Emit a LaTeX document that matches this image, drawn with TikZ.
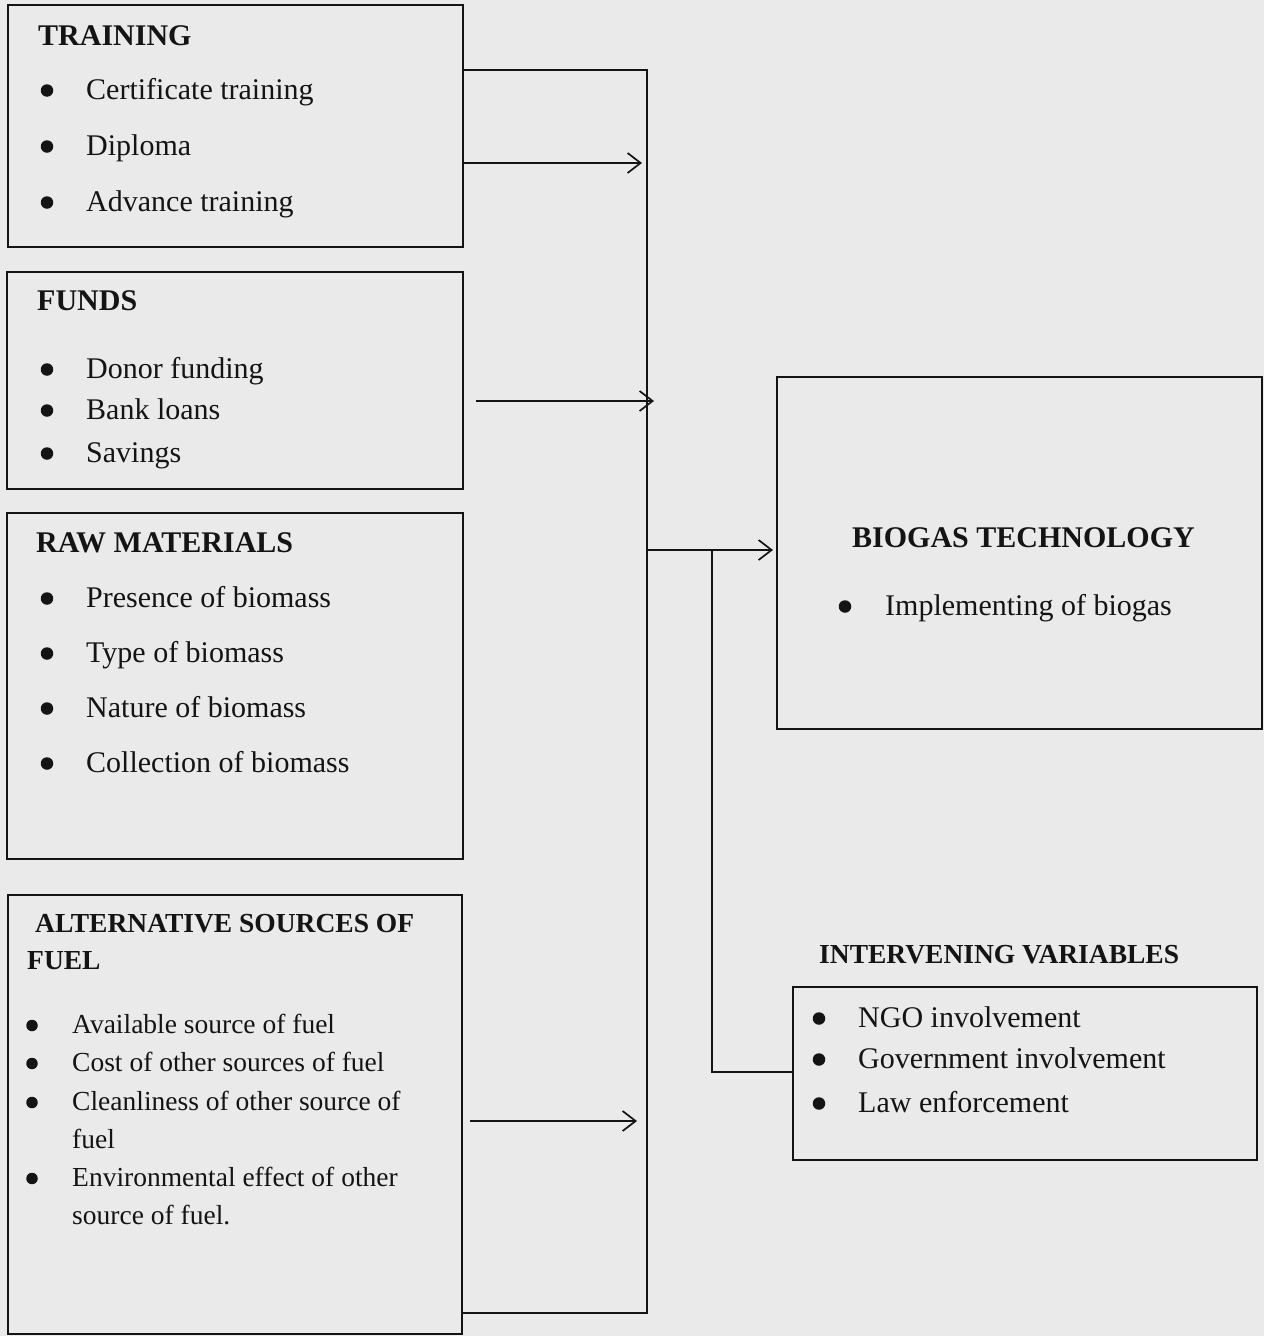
\documentclass[tikz,border=0pt]{standalone}
\usepackage{fontspec}
\setmainfont{Liberation Serif}
\usetikzlibrary{arrows.meta}
\definecolor{paper}{HTML}{EAEAEA}
\definecolor{ink}{HTML}{141414}
\begin{document}
\begin{tikzpicture}[x=1pt,y=-1pt,
  box/.style={draw=ink, line width=2pt, inner sep=0pt, outer sep=0pt, anchor=north west},
  txt/.style={anchor=base west, inner sep=0pt, text=ink, font=\fontsize{30}{36}\selectfont},
  ttl/.style={txt, font=\fontsize{30}{36}\selectfont\bfseries},
  stxt/.style={txt, font=\fontsize{27.5}{33}\selectfont},
  sttl/.style={txt, font=\fontsize{27.5}{33}\selectfont\bfseries},
  bul/.style={circle, fill=ink, inner sep=0pt, minimum size=12.5pt, yshift=8.5pt},
  sbul/.style={circle, fill=ink, inner sep=0pt, minimum size=11.5pt, yshift=7.5pt},
  conn/.style={draw=ink, line width=1.7pt},
  arr/.style={conn, -{Straight Barb[length=13pt,width=20pt]}}
]
\useasboundingbox (0,0) rectangle (1264,1336);
\fill[paper] (0,0) rectangle (1264,1336);

% ---------- boxes ----------
\node[box, minimum width=455pt, minimum height=242pt] (train) at (8,5) {};
\node[box, minimum width=456pt, minimum height=217pt] (funds) at (7,272) {};
\node[box, minimum width=456pt, minimum height=346pt] (raw) at (7,513) {};
\node[box, minimum width=454pt, minimum height=439pt] (alt) at (8,895) {};
\node[box, minimum width=485pt, minimum height=352pt] (biogas) at (777,377) {};
\node[box, minimum width=464pt, minimum height=173pt] (interv) at (793,987) {};

% ---------- training ----------
\node[ttl] (tT) at (38,45) {TRAINING};
\node[bul] (tb1) at (47,99) {};
\node[txt] (t1) at (86,99) {Certificate training};
\node[bul] (tb2) at (47,155) {};
\node[txt] (t2) at (86,155) {Diploma};
\node[bul] (tb3) at (47,211) {};
\node[txt] (t3) at (86,211) {Advance training};

% ---------- funds ----------
\node[ttl] (fT) at (37,310) {FUNDS};
\node[bul] (fb1) at (47,378) {};
\node[txt] (f1t) at (86,378) {Donor funding};
\node[bul] (fb2) at (47,419) {};
\node[txt] (f2t) at (86,419) {Bank loans};
\node[bul] (fb3) at (47,462) {};
\node[txt] (f3t) at (86,462) {Savings};

% ---------- raw materials ----------
\node[ttl] (rT) at (36,552) {RAW MATERIALS};
\node[bul] (rb1) at (47,607) {};
\node[txt] (r1) at (86,607) {Presence of biomass};
\node[bul] (rb2) at (47,662) {};
\node[txt] (r2) at (86,662) {Type of biomass};
\node[bul] (rb3) at (47,717) {};
\node[txt] (r3) at (86,717) {Nature of biomass};
\node[bul] (rb4) at (47,772) {};
\node[txt] (r4) at (86,772) {Collection of biomass};

% ---------- alternative sources ----------
\node[sttl] (aT1) at (35,932) {ALTERNATIVE SOURCES OF};
\node[sttl] (aT2) at (27,969) {FUEL};
\node[sbul] (ab1) at (32,1033) {};
\node[stxt] (a1t) at (72,1033) {Available source of fuel};
\node[sbul] (ab2) at (32,1071) {};
\node[stxt] (a2t) at (72,1071) {Cost of other sources of fuel};
\node[sbul] (ab3) at (32,1110) {};
\node[stxt] (a3t) at (72,1110) {Cleanliness of other source of};
\node[stxt] (a3u) at (72,1148) {fuel};
\node[sbul] (ab4) at (32,1186) {};
\node[stxt] (a4t) at (72,1186) {Environmental effect of other};
\node[stxt] (a4u) at (72,1224) {source of fuel.};

% ---------- biogas ----------
\node[ttl] (bT) at (852,547) {BIOGAS TECHNOLOGY};
\node[bul] (bb1) at (845,615) {};
\node[txt] (b1) at (885,615) {Implementing of biogas};

% ---------- intervening ----------
\node[sttl] (iT) at (819,963) {INTERVENING VARIABLES};
\node[bul] (ib1) at (819,1027) {};
\node[txt] (i1) at (858,1027) {NGO involvement};
\node[bul] (ib2) at (819,1068) {};
\node[txt] (i2) at (858,1068) {Government involvement};
\node[bul] (ib3) at (819,1112) {};
\node[txt] (i3) at (858,1112) {Law enforcement};

% ---------- connectors ----------
\coordinate (bt) at (647,70);
\coordinate (bbot) at (647,1313);
\draw[conn] (train.east |- bt) -- (bt) -- (bbot) -- (alt.east |- bbot);

\coordinate (ta) at (642,163);
\draw[arr] (train.east |- ta) -- (ta);

\coordinate (fa) at (654,401);
\path (funds.east |- fa) ++(13,0) coordinate (fs);
\draw[arr] (fs) -- (fa);

\coordinate (aa) at (637,1121);
\path (alt.east |- aa) ++(8,0) coordinate (as);
\draw[arr] (as) -- (aa);

\coordinate (bm) at (647,550);
\draw[arr, shorten >=4pt] (bm) -- (biogas.west |- bm);

\coordinate (im) at (712,550);
\coordinate (ic) at (712,1072);
\draw[conn] (im) -- (ic) -- (interv.west |- ic);
\end{tikzpicture}
\end{document}
